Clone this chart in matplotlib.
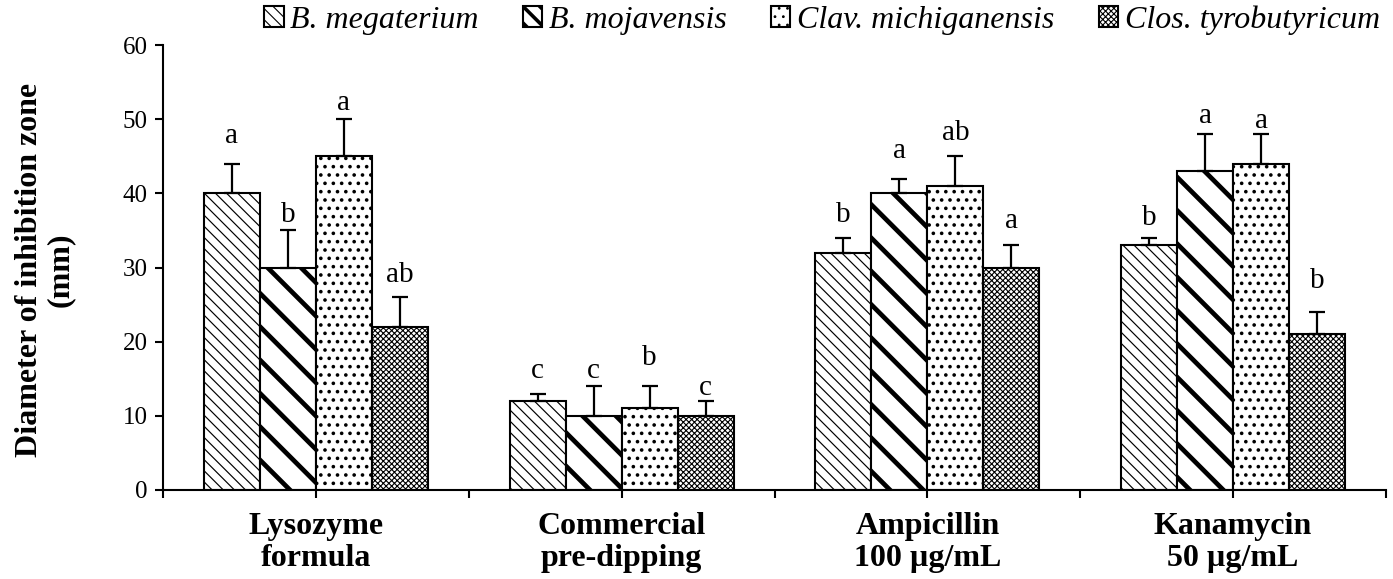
import numpy as np
import matplotlib
matplotlib.use("Agg")
import matplotlib.pyplot as plt

plt.rcParams['font.family'] = ['Liberation Serif', 'DejaVu Serif']

# treatments on the x axis (two-line labels)
treatments = ['Lysozyme\nformula', 'Commercial\npre-dipping',
              'Ampicillin\n100 µg/mL', 'Kanamycin\n50 µg/mL']
strains = ['B. megaterium', 'B. mojavensis',
           'Clav. michiganensis', 'Clos. tyrobutyricum']

# mean inhibition zone (mm) per strain, in treatment order
megaterium = [40, 12, 32, 33]
mojavensis = [30, 10, 40, 43]
michiganensis = [45, 11, 41, 44]
tyrobutyricum = [22, 10, 30, 21]

# standard deviations
megaterium_sd = [4, 1, 2, 1]
mojavensis_sd = [5, 4, 2, 5]
michiganensis_sd = [5, 3, 4, 4]
tyrobutyricum_sd = [4, 2, 3, 3]

# significance letters
megaterium_sig = ['a', 'c', 'b', 'b']
mojavensis_sig = ['b', 'c', 'a', 'a']
michiganensis_sig = ['a', 'b', 'ab', 'a']
tyrobutyricum_sig = ['ab', 'c', 'a', 'b']

# baseline height of each letter (mm)
megaterium_sig_y = [46.8, 15.1, 36.1, 35.7]
mojavensis_sig_y = [36.1, 15.1, 44.8, 49.5]
michiganensis_sig_y = [51.2, 16.9, 47.2, 48.8]
tyrobutyricum_sig_y = [28.0, 12.8, 35.3, 27.2]

means = [megaterium, mojavensis, michiganensis, tyrobutyricum]
sds = [megaterium_sd, mojavensis_sd, michiganensis_sd, tyrobutyricum_sd]
sigs = [megaterium_sig, mojavensis_sig, michiganensis_sig, tyrobutyricum_sig]
sig_ys = [megaterium_sig_y, mojavensis_sig_y, michiganensis_sig_y, tyrobutyricum_sig_y]

# hatch style per strain: (pattern, hatch line width)
styles = [('\\\\\\', 0.85), ('\\', 3.4), ('..', 1.4), ('xxxxxx', 0.8)]

fig = plt.figure(figsize=(13.93, 5.79), dpi=100)
ax = fig.add_axes([163 / 1393, 89 / 579, (1386 - 163) / 1393, 445 / 579])

x = np.arange(len(treatments))
w = 0.1833
handles = []
for i in range(4):
    hatch, hlw = styles[i]
    plt.rcParams['hatch.linewidth'] = hlw
    pos = x + (i - 1.5) * w
    bars = ax.bar(pos, means[i], w, color='white', edgecolor='black',
                  linewidth=1.5, hatch=hatch, label=strains[i], zorder=2)
    for b in bars:
        if hasattr(b, 'set_hatch_linewidth'):
            b.set_hatch_linewidth(hlw)
    handles.append(bars)
    ax.errorbar(pos, means[i], yerr=[np.zeros(4), sds[i]], fmt='none',
                ecolor='black', elinewidth=1.6, capsize=6, capthick=1.6, zorder=3)
    for px, txt, ty in zip(pos, sigs[i], sig_ys[i]):
        ax.text(px, ty, txt, ha='center', va='baseline', fontsize=21)

ax.set_xlim(-0.5, 3.5)
ax.set_ylim(0, 60)
ax.set_yticks(np.arange(0, 61, 10))
ax.set_xticks(x)
ax.set_xticks(np.arange(-0.5, 3.6, 1.0), minor=True)
ax.set_xticklabels(treatments, fontsize=23, fontweight='bold', linespacing=1.12)
ax.tick_params(axis='y', labelsize=18, direction='out', length=6, width=1.5, pad=5)
ax.tick_params(axis='x', which='both', direction='out', length=6, width=1.5, pad=10)
for s in ['top', 'right']:
    ax.spines[s].set_visible(False)
for s in ['left', 'bottom']:
    ax.spines[s].set_linewidth(1.5)

fig.text(45 / 1393, 1 - 270 / 579, 'Diameter of inhibition zone\n(mm)',
         rotation=90, ha='center', va='center', fontsize=23,
         fontweight='bold', multialignment='center', linespacing=1.05)

leg = fig.legend(handles, strains, loc='center', bbox_to_anchor=(822 / 1393, 1 - 20 / 579),
                 ncol=4, frameon=False, prop={'style': 'italic', 'size': 23},
                 handlelength=0.6, handleheight=0.6, handletextpad=0.2,
                 columnspacing=1.4, borderpad=0.1)
# the wide stripe is too sparse for the small legend key; tighten it there
key = leg.get_patches()[1]
key.set_hatch('\\\\')
if hasattr(key, 'set_hatch_linewidth'):
    key.set_hatch_linewidth(2.6)

fig.savefig('out.png', dpi=100)
